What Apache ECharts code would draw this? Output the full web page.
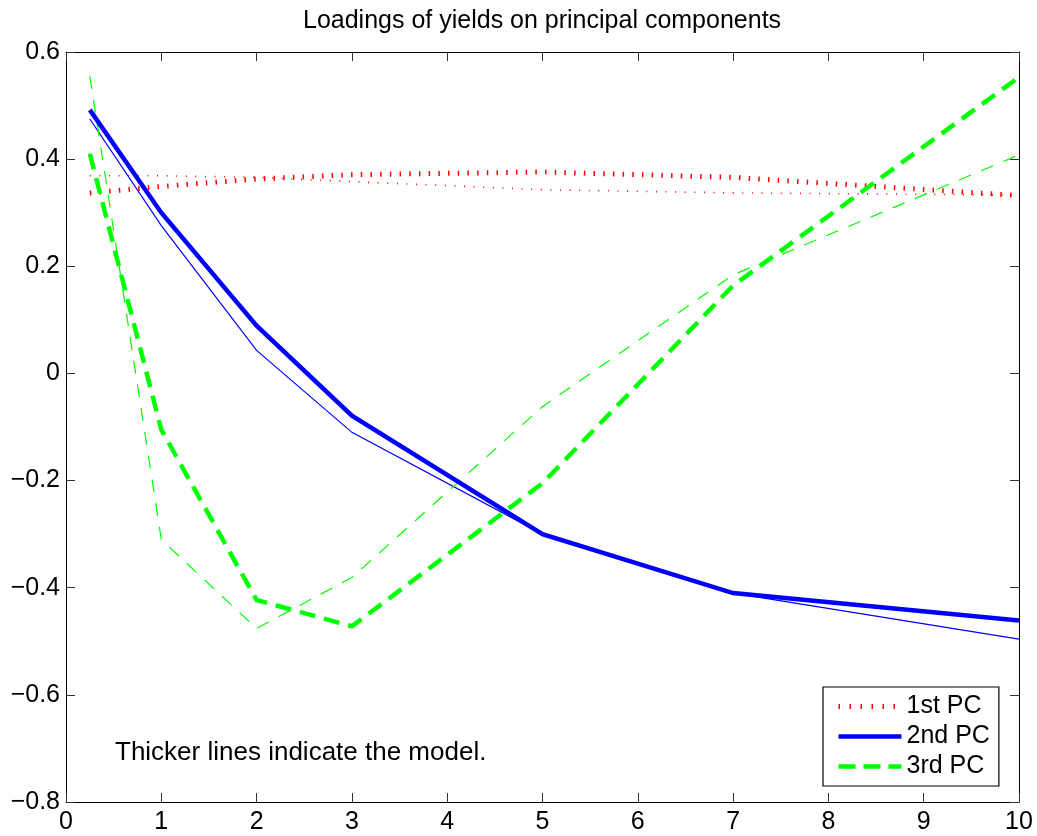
<!DOCTYPE html>
<html>
<head>
<meta charset="utf-8">
<script src="https://cdn.jsdelivr.net/npm/echarts@6/dist/echarts.min.js"></script>
<style>html,body{margin:0;padding:0;background:#fff;}#c{width:1037px;height:836px;}</style>
</head>
<body>
<div id="c"></div>
<script>
// maturities (years)
var maturities = [0.25, 1, 2, 3, 5, 7, 10];
// model (thick lines)
var pc1Model = [0.337, 0.349, 0.363, 0.371, 0.376, 0.366, 0.332];
var pc2Model = [0.492, 0.300, 0.089, -0.079, -0.300, -0.410, -0.461];
var pc3Model = [0.410, -0.105, -0.423, -0.472, -0.205, 0.164, 0.553];
// data (thin lines)
var pc1Data = [0.369, 0.369, 0.366, 0.358, 0.343, 0.337, 0.333];
var pc2Data = [0.475, 0.276, 0.043, -0.110, -0.300, -0.410, -0.496];
var pc3Data = [0.555, -0.310, -0.476, -0.381, -0.062, 0.184, 0.408];
var xTickLabels = ['0','1','2','3','4','5','6','7','8','9','10'];
var yTickLabels = ['\u22120.8','\u22120.6','\u22120.4','\u22120.2','0','0.2','0.4','0.6'];
var legendNames = ['1st PC','2nd PC','3rd PC'];
var titleText = 'Loadings of yields on principal components';
var noteText = 'Thicker lines indicate the model.';

var FONT = 'Liberation Sans, Arial, Helvetica, sans-serif';
function pairs(xs, ys){ return xs.map(function(x,i){ return [x, ys[i]]; }); }

var RED = '#ff0000', BLUE = '#0000ff', GREEN = '#00ff00';
var styles = {
  pc1M: {color: RED, width: 5, type: [1.5, 8.2]},
  pc2M: {color: BLUE, width: 4.5, type: 'solid'},
  pc3M: {color: GREEN, width: 4.5, type: [16, 9]},
  pc1D: {color: RED, width: 1.6, type: [1, 8.6]},
  pc2D: {color: BLUE, width: 1.2, type: 'solid'},
  pc3D: {color: GREEN, width: 1.2, type: [13, 11]}
};
function line(name, data, st){
  return {
    name: name, type: 'line', data: data, symbol: 'none', showSymbol: false,
    color: st.color, animation: false, silent: true,
    lineStyle: {color: st.color, width: st.width, type: st.type, cap: 'butt', join: 'miter'},
    emphasis: {disabled: true}
  };
}

var axisCommon = {
  type: 'value',
  axisLine: {show: true, onZero: false, lineStyle: {color: '#000', width: 1}},
  axisTick: {show: true, inside: true, length: 9, lineStyle: {color: '#333', width: 1}},
  splitLine: {show: false}
};

var chart = echarts.init(document.getElementById('c'));
chart.setOption({
  animation: false,
  backgroundColor: '#fff',
  title: {
    text: titleText, left: 303, top: 9, padding: 0,
    textStyle: {fontFamily: FONT, fontSize: 25, fontWeight: 'normal', color: '#000'}
  },
  grid: {left: 66, right: 18, top: 52, bottom: 34, containLabel: false},
  xAxis: [
    Object.assign({}, axisCommon, {
      position: 'bottom', min: 0, max: 10, interval: 1,
      axisLabel: {show: true, margin: 8, color: '#000', fontFamily: FONT, fontSize: 25,
        formatter: function(v){ return xTickLabels[Math.round(v)]; }}
    }),
    Object.assign({}, axisCommon, {
      position: 'top', min: 0, max: 10, interval: 1, axisLabel: {show: false}
    })
  ],
  yAxis: [
    Object.assign({}, axisCommon, {
      position: 'left', min: -0.8, max: 0.6, interval: 0.2,
      axisLabel: {show: true, margin: 6, color: '#000', fontFamily: FONT, fontSize: 25,
        formatter: function(v){ return yTickLabels[Math.round((v + 0.8) / 0.2)]; }}
    }),
    Object.assign({}, axisCommon, {
      position: 'right', min: -0.8, max: 0.6, interval: 0.2, axisLabel: {show: false}
    })
  ],
  legend: {
    show: true, orient: 'vertical', left: 823, top: 687,
    padding: [7, 9, 7, 13], itemGap: 5, itemWidth: 63, itemHeight: 14,
    borderColor: '#000', borderWidth: 1.2, backgroundColor: '#fff',
    selectedMode: false,
    textStyle: {fontFamily: FONT, fontSize: 25, color: '#000'},
    data: [
      {name: legendNames[0], itemStyle: {opacity: 0}, lineStyle: {color: RED, width: 5, type: [1.5, 9.5]}},
      {name: legendNames[1], itemStyle: {opacity: 0}, lineStyle: {color: BLUE, width: 4.5, type: 'solid'}},
      {name: legendNames[2], itemStyle: {opacity: 0}, lineStyle: {color: GREEN, width: 4.5, type: [17, 8]}}
    ]
  },
  graphic: [{
    type: 'text', left: 115, top: 740, silent: true,
    style: {text: noteText, fill: '#000', font: '26px ' + FONT}
  }],
  series: [
    line('1st PC data', pairs(maturities, pc1Data), styles.pc1D),
    line('2nd PC data', pairs(maturities, pc2Data), styles.pc2D),
    line('3rd PC data', pairs(maturities, pc3Data), styles.pc3D),
    line(legendNames[0], pairs(maturities, pc1Model), styles.pc1M),
    line(legendNames[1], pairs(maturities, pc2Model), styles.pc2M),
    line(legendNames[2], pairs(maturities, pc3Model), styles.pc3M)
  ]
});
</script>
</body>
</html>
